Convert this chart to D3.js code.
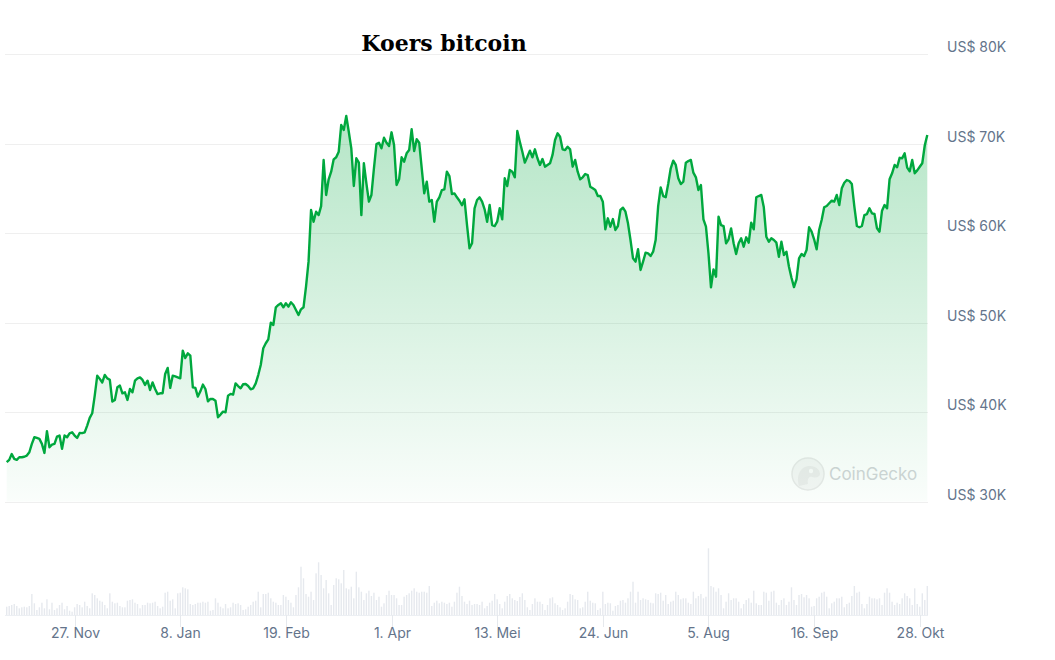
<!DOCTYPE html>
<html>
<head>
<meta charset="utf-8">
<script src="https://cdn.jsdelivr.net/npm/d3@7"></script>
<style>
body {margin:0; background:#fff;}
svg {display:block;}
</style>
</head>
<body>
<svg id="chart" width="1055" height="660"></svg>
<script>
// daily price, thousands of US$, from 31 Oct 2023
var startDate = new Date(2023, 9, 31);
var prices = [
34.39, 34.65, 35.3, 34.76, 34.65, 34.94, 34.94, 35.0, 35.13, 35.5,
36.44, 37.18, 37.1, 37.0, 36.44, 35.43, 37.85, 36.06, 36.36, 36.44,
37.25, 37.37, 35.88, 37.37, 37.18, 37.62, 37.73, 37.37, 37.1, 37.66,
37.64, 37.73, 38.48, 39.34, 39.86, 41.83, 44.06, 43.7, 43.3, 44.14,
43.76, 43.6, 41.16, 41.35, 42.76, 42.95, 42.09, 42.2, 41.35, 42.57,
42.2, 43.5, 43.76, 43.87, 43.58, 43.02, 43.5, 42.46, 43.3, 42.57,
42.0, 42.09, 42.1, 44.25, 44.92, 42.69, 44.06, 43.98, 43.87, 43.76,
46.85, 46.03, 46.55, 46.29, 42.76, 42.69, 41.72, 42.31, 43.06, 42.57,
41.19, 41.46, 41.46, 41.27, 39.41, 39.71, 40.04, 39.97, 41.83, 42.02,
41.94, 43.2, 42.9, 42.65, 43.1, 43.13, 42.9, 42.54, 42.65, 43.2,
44.13, 45.25, 47.12, 47.68, 48.12, 49.98, 49.72, 51.7, 51.96, 52.15,
51.7, 52.15, 51.77, 52.26, 51.96, 51.4, 50.84, 51.47, 51.7, 54.0,
56.8, 62.57, 61.26, 62.38, 62.0, 63.0, 68.16, 64.25, 66.0, 66.85,
68.23, 68.46, 69.08, 72.07, 71.51, 73.07, 71.32, 69.46, 65.25, 68.35,
67.86, 62.0, 67.79, 65.55, 63.5, 64.25, 67.23, 69.94, 70.09, 69.46,
70.65, 70.09, 69.72, 71.25, 69.83, 65.36, 66.0, 68.46, 67.97, 68.9,
69.27, 71.59, 69.16, 70.47, 70.09, 67.23, 64.43, 65.73, 63.5, 63.69,
61.26, 63.5, 63.99, 64.8, 64.88, 66.85, 66.37, 64.36, 64.43, 63.99,
63.6, 63.1, 63.77, 60.9, 58.29, 58.85, 62.76, 63.69, 63.99, 63.5,
62.65, 61.26, 63.13, 60.89, 60.78, 61.26, 62.76, 61.53, 66.11, 65.25,
67.04, 66.85, 66.22, 71.4, 70.2, 69.08, 67.86, 68.52, 69.2, 68.46,
69.35, 68.35, 67.6, 68.27, 67.41, 67.6, 67.79, 68.72, 70.39, 71.14,
70.76, 69.35, 69.27, 69.64, 69.35, 67.41, 68.16, 66.85, 66.0, 66.22,
66.59, 66.48, 65.17, 64.99, 64.8, 64.13, 64.13, 63.5, 60.41, 61.64,
60.7, 61.56, 60.34, 60.78, 62.57, 62.83, 62.38, 61.08, 59.22, 57.17,
56.8, 58.18, 55.87, 56.8, 57.8, 57.73, 57.43, 57.91, 59.22, 63.0,
65.1, 64.13, 64.0, 65.5, 67.23, 68.08, 67.6, 66.11, 65.47, 65.73,
67.86, 68.04, 68.16, 66.74, 66.22, 64.8, 65.36, 61.53, 60.7, 57.73,
53.93, 55.94, 55.12, 61.82, 60.89, 60.78, 58.85, 59.3, 60.52, 58.85,
57.65, 58.85, 59.41, 58.47, 59.52, 58.92, 61.15, 60.41, 63.99, 64.13,
64.25, 62.87, 59.59, 59.03, 59.41, 59.22, 58.92, 57.35, 59.03, 57.54,
57.91, 56.23, 55.0, 53.95, 54.83, 57.17, 57.65, 57.43, 58.1, 60.64,
60.15, 59.3, 58.18, 60.34, 61.45, 62.87, 63.02, 63.32, 63.61, 63.5,
64.25, 63.13, 64.99, 65.62, 65.92, 65.81, 65.47, 62.94, 60.78, 60.64,
60.78, 62.01, 62.12, 62.76, 62.2, 62.12, 60.52, 60.15, 62.49, 63.13,
62.76, 66.0, 66.67, 67.6, 67.34, 68.4, 68.35, 68.9, 67.3, 66.9,
68.16, 66.67, 67.0, 67.4, 67.79, 69.8, 70.95
];

// daily traded volume, billions of US$
var volumes = [
8.3, 9, 10, 11, 9, 6.7, 7.7, 8.3, 7.7, 9,
21, 11.7, 5, 7.7, 12.3, 6.7, 15.7, 5.7, 12.3, 5,
6.7, 10, 12.3, 5.7, 9, 4.3, 3.3, 7.7, 11, 10,
7.7, 13.3, 9, 6.7, 21.7, 20, 16.7, 14.3, 13.3, 10,
6.7, 21.7, 13.3, 11.7, 12.3, 9, 7.7, 7.7, 14.3, 15,
15.7, 12.3, 11, 6.7, 10, 10, 12.3, 11.7, 12.3, 13.3,
9, 6.7, 8.3, 22.3, 23.3, 14.3, 15.7, 6.7, 21.7, 22.3,
27.7, 26.7, 25.7, 11, 10, 11, 12.3, 12.3, 13.3, 12.3,
13.3, 4.3, 5, 16.7, 12.3, 8.3, 6.7, 11, 6.7, 7.7,
12.3, 11, 11.7, 10, 5, 5.7, 8.3, 10, 13.3, 14.3,
23.3, 7.7, 21, 21, 22.3, 16.7, 13.3, 12.3, 10, 10,
20, 18.3, 15, 12.3, 7.7, 20, 27.7, 48.3, 36.7, 21,
18.3, 23.3, 15, 41.7, 52.7, 40, 26.7, 35, 21.7, 10,
30, 36.7, 35.7, 31.7, 45, 26.7, 25.7, 28.3, 16.7, 43.3,
27.7, 23.3, 15, 21.7, 24.3, 19, 22.3, 15, 18.3, 8.3,
11.7, 20, 24.3, 20, 20, 16.7, 10, 10, 18.3, 20,
21.7, 24.3, 26.7, 23.3, 22.3, 23.3, 23.3, 22.3, 29, 9,
12.3, 14.3, 11.7, 13.3, 12.3, 11, 12.3, 8.3, 13.3, 22.3,
28.3, 19, 13.3, 11, 14.3, 10, 11, 11, 10, 13.3,
6.7, 9, 12.3, 14.3, 21, 15.7, 11, 6.7, 13.3, 19,
21, 16.7, 15, 14, 18,
21.7, 15, 7.7, 5, 11, 16.7, 13.3, 13.3, 11,
5, 10, 16.7, 17.7, 11.7, 10, 7.7, 5, 6.7,
13.3, 21, 20, 15.7, 15, 6.7, 7.7, 13.3, 23.3,
14.3, 12.3, 11.7, 5, 6.7, 23.3, 11, 12.3, 11.7,
4.3, 9, 10, 14.3, 15, 12.3, 16.7, 23.3, 33.3,
12.3, 23.3, 15, 16.7, 15.7, 15, 12.3, 11.7, 21.7,
21, 22.3, 14.3, 20, 11, 13.3, 14.3, 23.3, 20,
15.7, 16.7, 16.7, 12.3, 11, 23.3, 16.7, 19, 21,
16.7, 18.3, 66.7, 29, 27.7, 23.3, 26.7, 20, 6.7,
13.3, 21.7, 15, 16.7, 16.7, 13.3, 6.7, 11, 15,
16.7, 12.3, 24.3, 11.7, 10, 10, 23.3, 22.3, 14.3,
23.3, 24.3, 12.3, 10, 15, 16.7, 10, 13.3, 27.7,
15, 10, 20, 21, 17.7, 20, 16.7, 8.3, 9,
16.7, 18.3, 22.3, 23.3, 18.3, 6.7, 11.7, 13.3, 16.7,
16.7, 18.3, 7.7, 11, 12.3, 19, 29, 22.3, 23.3,
11, 6.7, 11, 18.3, 16.7, 16.7, 15.7, 16.7, 10,
22.3, 26.7, 22.3, 13.3, 10, 12.3, 11, 16.7, 21.7,
19, 16.7, 10, 26.7, 11, 8.3, 21.7, 15, 29
];

var yTicks = [30, 40, 50, 60, 70, 80];
var tickDates = ["2023-11-27", "2024-01-08", "2024-02-19", "2024-04-01", "2024-05-13",
                 "2024-06-24", "2024-08-05", "2024-09-16", "2024-10-28"];
var monthNames = ["Jan", "Feb", "Mrt", "Apr", "Mei", "Jun", "Jul", "Aug", "Sep", "Okt", "Nov", "Dec"];

var green = "#00a83e";
var labelColor = "#64748b";

var svg = d3.select("#chart");
var parseDate = d3.timeParse("%Y-%m-%d");

var data = prices.map((p, i) => ({date: d3.timeDay.offset(startDate, i), price: p, volume: volumes[i]}));

var x = d3.scaleTime()
  .domain([startDate, d3.timeDay.offset(startDate, prices.length - 1)])
  .range([6.7, 927.3]);

var y = d3.scaleLinear()
  .domain([30, 80])
  .range([501.5, 54]);

var yVol = d3.scaleLinear()
  .domain([0, d3.max(volumes)])
  .range([615, 548.3]);

// gradient under the line
var grad = svg.append("defs").append("linearGradient")
  .attr("id", "fillGrad")
  .attr("gradientUnits", "userSpaceOnUse")
  .attr("x1", 0).attr("x2", 0)
  .attr("y1", y(73)).attr("y2", y(30));
grad.append("stop").attr("offset", "0%").attr("stop-color", green).attr("stop-opacity", 0.29);
grad.append("stop").attr("offset", "100%").attr("stop-color", green).attr("stop-opacity", 0.02);

// grid lines
svg.append("g")
  .selectAll("line")
  .data(yTicks)
  .enter()
  .append("line")
  .attr("x1", 5)
  .attr("x2", 928)
  .attr("y1", d => Math.round(y(d)) + 0.5)
  .attr("y2", d => Math.round(y(d)) + 0.5)
  .style("stroke", "#efefef")
  .style("stroke-width", 1);

// y labels, right side
svg.append("g")
  .selectAll("text")
  .data(yTicks)
  .enter()
  .append("text")
  .attr("x", 947)
  .attr("y", d => y(d) - 2)
  .text(d => "US$ " + d + "K")
  .style("font-family", "Inter, 'Liberation Sans', sans-serif")
  .style("font-size", "14px")
  .style("fill", labelColor);

// volume bars
svg.append("g")
  .selectAll("rect")
  .data(data)
  .enter()
  .append("rect")
  .attr("x", d => x(d.date) - 0.7)
  .attr("width", 1.4)
  .attr("y", d => yVol(d.volume))
  .attr("height", d => 615 - yVol(d.volume))
  .style("fill", "#e6e9ee");

svg.append("line")
  .attr("x1", 5).attr("x2", 928)
  .attr("y1", 615.5).attr("y2", 615.5)
  .style("stroke", "#eceff3");

// x axis ticks + labels
var xt = svg.append("g")
  .selectAll("g")
  .data(tickDates.map(parseDate))
  .enter()
  .append("g")
  .attr("transform", d => "translate(" + (Math.round(x(d)) + 0.5) + ",0)");

xt.append("line")
  .attr("y1", 615)
  .attr("y2", 627)
  .style("stroke", "#e6e9ed");

xt.append("text")
  .attr("y", 638)
  .attr("text-anchor", "middle")
  .text(d => d.getDate() + ". " + monthNames[d.getMonth()])
  .style("font-family", "Inter, 'Liberation Sans', sans-serif")
  .style("font-size", "14px")
  .style("fill", labelColor);

// watermark
var wm = svg.append("g").attr("transform", "translate(808,474)").style("opacity", 0.6);
wm.append("circle").attr("r", 16).style("fill", "#f1f1f1").style("stroke", "#dcdcdc").style("stroke-width", 1.5);
wm.append("path")
  .attr("d", "M-9,12 C-12,2 -8,-8 2,-8 C8,-8 12,-4 12,0 C12,3 8,4 4,3 C1,2 -1,5 0,10 Z")
  .style("fill", "#e0e0e0");
wm.append("circle").attr("cx", 3).attr("cy", -3).attr("r", 2.2).style("fill", "#fafafa");
svg.append("text")
  .attr("x", 829)
  .attr("y", 480)
  .text("CoinGecko")
  .style("font-family", "Inter, 'Liberation Sans', sans-serif")
  .style("font-size", "17px")
  .style("fill", "#d2d5d8");

// price area + line
var area = d3.area()
  .x(d => x(d.date))
  .y0(y(30))
  .y1(d => y(d.price));

var line = d3.line()
  .x(d => x(d.date))
  .y(d => y(d.price));

svg.append("path")
  .datum(data)
  .attr("d", area)
  .style("fill", "url(#fillGrad)");

svg.append("path")
  .datum(data)
  .attr("d", line)
  .style("fill", "none")
  .style("stroke", green)
  .style("stroke-width", 2.4)
  .style("stroke-linejoin", "round");

// title
svg.append("text")
  .attr("x", 444)
  .attr("y", 51)
  .attr("text-anchor", "middle")
  .text("Koers bitcoin")
  .style("font-family", "'DejaVu Serif', serif")
  .style("font-weight", "bold")
  .style("font-size", "22px")
  .style("fill", "#000");
</script>
</body>
</html>
